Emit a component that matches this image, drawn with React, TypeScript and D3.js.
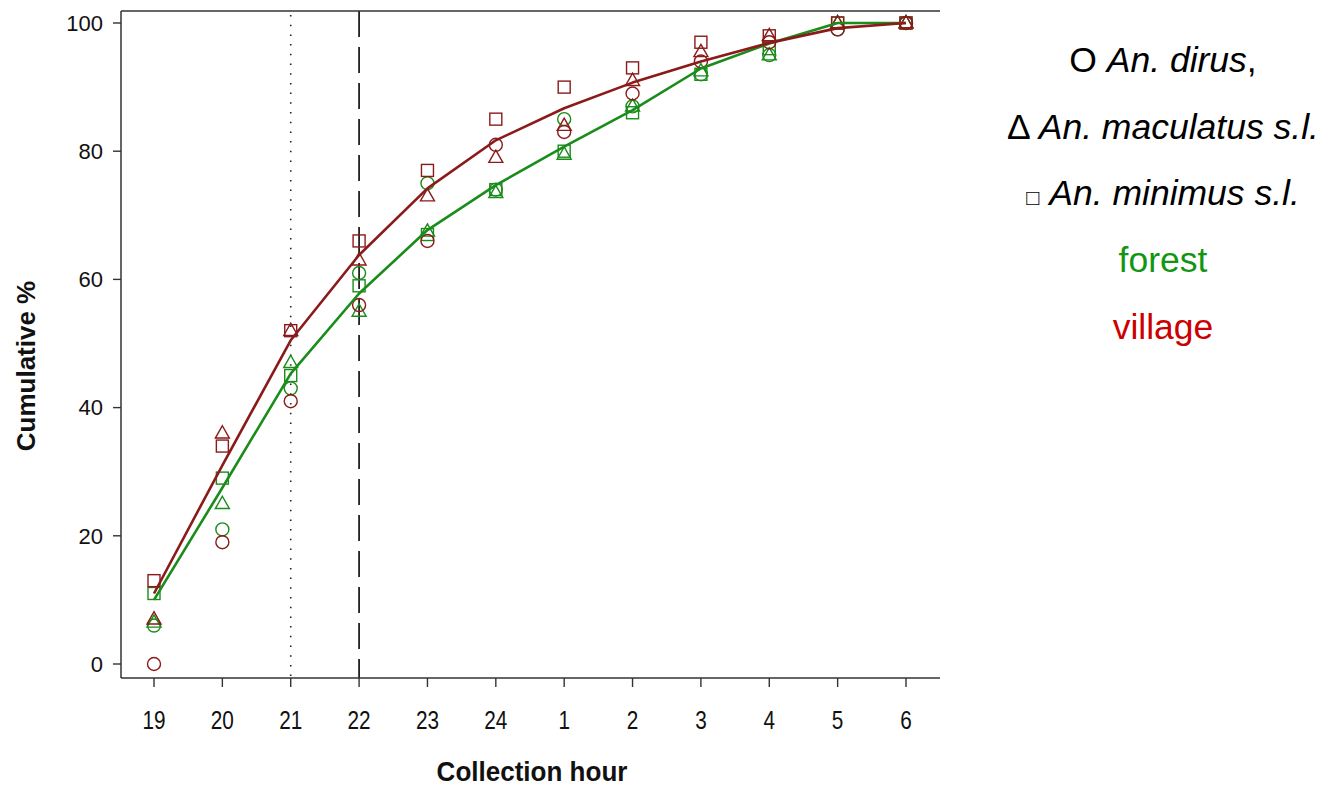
import React from "react";
import * as d3 from "d3";

const hours = ["19", "20", "21", "22", "23", "24", "1", "2", "3", "4", "5", "6"];
const yTicks = [0, 20, 40, 60, 80, 100];

const forestDirus = [6, 21, 43, 61, 75, 74, 85, 87, 92, 95, 99, 100];
const forestMaculatus = [6.5, 25, 47, 55, 67.5, 73.5, 79.5, 87, 92.5, 95, 100, 100];
const forestMinimus = [11, 29, 45, 59, 67, 74, 80, 86, 92, 96, 100, 100];
const villageDirus = [0, 19, 41, 56, 66, 81, 83, 89, 94, 97, 99, 100];
const villageMaculatus = [7, 36, 52, 63, 73, 79, 84, 91, 95.5, 98, 100, 100];
const villageMinimus = [13, 34, 52, 66, 77, 85, 90, 93, 97, 98, 100, 100];
const forestFit = [10, 27.5, 45.3, 57.8, 67.7, 74.7, 80.7, 86.4, 92.9, 96.8, 100, 100];
const villageFit = [11, 31, 50.5, 63.8, 74.2, 81.7, 86.7, 90.7, 94.0, 96.9, 99.2, 100];

const GREEN = "#1a8c1a";
const RED = "#8b1a1a";

const FONT = "'Liberation Sans', Arial, Helvetica, sans-serif";

type Shape = "circle" | "triangle" | "square";

const markerSeries: { values: number[]; shape: Shape; color: string }[] = [
  { values: forestDirus, shape: "circle", color: GREEN },
  { values: forestMaculatus, shape: "triangle", color: GREEN },
  { values: forestMinimus, shape: "square", color: GREEN },
  { values: villageDirus, shape: "circle", color: RED },
  { values: villageMaculatus, shape: "triangle", color: RED },
  { values: villageMinimus, shape: "square", color: RED },
];

export default function App() {
  const left = 121;
  const right = 940;
  const top = 11;
  const bottom = 678;

  const x = d3.scalePoint<string>().domain(hours).range([154, 906]);
  const y = d3.scaleLinear().domain([0, 100]).range([664, 23]);

  const line = d3
    .line<number>()
    .x((_, i) => x(hours[i]) as number)
    .y((d) => y(d))
    .curve(d3.curveLinear);

  const marker = (shape: Shape, cx: number, cy: number, color: string, key: string) => {
    const common = { fill: "none", stroke: color, strokeWidth: 1.4 };
    if (shape === "circle") return <circle key={key} cx={cx} cy={cy} r={6.5} {...common} />;
    if (shape === "square")
      return <rect key={key} x={cx - 6} y={cy - 6} width={12} height={12} {...common} />;
    return (
      <path
        key={key}
        d={`M${cx},${cy - 7.5} L${cx + 7},${cy + 4.8} L${cx - 7},${cy + 4.8} Z`}
        {...common}
      />
    );
  };

  const legendX = 1163;
  const legendY = [60, 127, 193, 260, 327];

  return (
    <svg
      width={1334}
      height={787}
      style={{ position: "absolute", left: 0, top: 0, background: "#fff" }}
      fontFamily={FONT}
    >
      {/* reference lines */}
      <line
        x1={x("21")}
        x2={x("21")}
        y1={top + 4}
        y2={bottom}
        stroke="#222"
        strokeWidth={1.6}
        strokeDasharray="1.5 8.2"
      />
      <line
        x1={x("22")}
        x2={x("22")}
        y1={top}
        y2={bottom}
        stroke="#222"
        strokeWidth={1.8}
        strokeDasharray="26 10"
      />

      {/* frame */}
      <line x1={left} x2={right} y1={top} y2={top} stroke="#333" strokeWidth={1.5} />
      <line x1={left} x2={right} y1={bottom} y2={bottom} stroke="#333" strokeWidth={1.5} />
      <line x1={left} x2={left} y1={top} y2={bottom} stroke="#333" strokeWidth={1.5} />

      {/* y axis */}
      {yTicks.map((t) => (
        <g key={t}>
          <line x1={left - 8} x2={left} y1={y(t)} y2={y(t)} stroke="#333" strokeWidth={1.4} />
          <text
            x={103}
            y={y(t)}
            dy="0.35em"
            textAnchor="end"
            fontSize={22}
            fill="#111"
          >
            {t}
          </text>
        </g>
      ))}
      <text
        transform={`translate(35,366) rotate(-90)`}
        textAnchor="middle"
        fontSize={26}
        fontWeight="bold"
        fill="#111"
      >
        Cumulative %
      </text>

      {/* x axis */}
      {hours.map((h) => (
        <g key={h}>
          <line
            x1={x(h)}
            x2={x(h)}
            y1={bottom}
            y2={bottom + 9}
            stroke="#333"
            strokeWidth={1.4}
          />
          <text
            transform={`translate(${x(h)},729) scale(0.83,1)`}
            textAnchor="middle"
            fontSize={25}
            fill="#111"
          >
            {h}
          </text>
        </g>
      ))}
      <text
        transform={`translate(532,781) scale(0.93,1)`}
        textAnchor="middle"
        fontSize={28}
        fontWeight="bold"
        fill="#111"
      >
        Collection hour
      </text>

      {/* markers */}
      {markerSeries.map((s, si) =>
        s.values.map((v, i) => marker(s.shape, x(hours[i]) as number, y(v), s.color, `${si}-${i}`))
      )}

      {/* fitted lines */}
      <path d={line(forestFit) || ""} fill="none" stroke={GREEN} strokeWidth={2.6} strokeLinejoin="round" />
      <path d={line(villageFit) || ""} fill="none" stroke={RED} strokeWidth={2.6} strokeLinejoin="round" />

      {/* legend */}
      <g fontSize={35.5} textAnchor="middle">
        <text x={legendX} y={legendY[0]} dy="0.35em" fill="#000">
          O <tspan fontStyle="italic">An. dirus</tspan>,
        </text>
        <text x={legendX} y={legendY[1]} dy="0.35em" fill="#000">
          Δ <tspan fontStyle="italic">An. maculatus s.l.</tspan>
        </text>
        <text x={legendX} y={legendY[2]} dy="0.35em" fill="#000">
          <tspan fontSize={22} fill="#000">□</tspan> <tspan fontStyle="italic">An. minimus s.l.</tspan>
        </text>
        <text x={legendX} y={legendY[3]} dy="0.35em" fill="#129612">
          forest
        </text>
        <text x={legendX} y={legendY[4]} dy="0.35em" fill="#cc0000">
          village
        </text>
      </g>
    </svg>
  );
}
